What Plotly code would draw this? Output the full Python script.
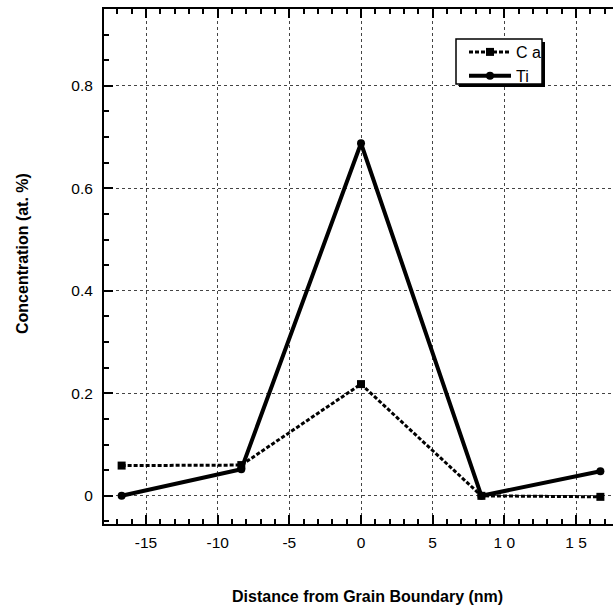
import plotly.graph_objects as go

# ---- data ----
distance_nm = [-16.7, -8.35, 0.0, 8.4, 16.7]
ca_conc = [0.059, 0.060, 0.218, 0.0, -0.002]
ti_conc = [0.0, 0.052, 0.688, 0.0, 0.048]

x_tick_vals = [-15, -10, -5, 0, 5, 10, 15]
x_tick_text = ["-15", "-10", "-5", "0", "5", "1 0", "1 5"]
y_tick_vals = [0, 0.2, 0.4, 0.6, 0.8]
y_tick_text = ["0", "0.2", "0.4", "0.6", "0.8"]

W, H = 613, 608
ML, MR, MT, MB = 104, 0, 9, 84
PW, PH = W - ML - MR, H - MT - MB


def px_x(p):
    return (p - ML) / PW


def px_y(p):
    return (H - MB - p) / PH


FONT = "Liberation Sans, Arial, sans-serif"

fig = go.Figure()
fig.add_trace(go.Scatter(
    x=distance_nm, y=ca_conc, name="C a", mode="lines+markers",
    line=dict(color="black", width=3, dash="4px,2px"),
    marker=dict(symbol="square", size=8, color="black"),
))
fig.add_trace(go.Scatter(
    x=distance_nm, y=ti_conc, name="Ti", mode="lines+markers",
    line=dict(color="black", width=4),
    marker=dict(symbol="circle", size=8, color="black"),
))

# legend box with drop shadow
fig.add_shape(type="rect", xref="paper", yref="paper",
              x0=px_x(459), x1=px_x(545), y0=px_y(87), y1=px_y(42),
              fillcolor="black", line=dict(width=0), layer="above")
fig.add_shape(type="rect", xref="paper", yref="paper",
              x0=px_x(456), x1=px_x(542), y0=px_y(84), y1=px_y(39),
              fillcolor="white", line=dict(color="black", width=1.5), layer="above")

fig.add_annotation(text="<b>Distance from Grain Boundary (nm)</b>", xref="paper", yref="paper",
                   x=px_x(367), y=px_y(596), xanchor="center", yanchor="middle", showarrow=False,
                   font=dict(family=FONT, size=16, color="black"))
fig.add_annotation(text="<b>Concentration (at. %)</b>", xref="paper", yref="paper",
                   x=px_x(22), y=px_y(254), xanchor="center", yanchor="middle",
                   showarrow=False, textangle=-90,
                   font=dict(family=FONT, size=16, color="black"))

fig.update_layout(
    width=W, height=H,
    margin=dict(l=ML, r=MR, t=MT, b=MB),
    plot_bgcolor="white", paper_bgcolor="white",
    font=dict(family=FONT, size=15.5, color="black"),
    showlegend=True,
    legend=dict(x=px_x(464), y=px_y(35), xanchor="left", yanchor="top",
                bgcolor="rgba(0,0,0,0)", borderwidth=0,
                font=dict(family=FONT, size=16, color="black"),
                itemwidth=42, tracegroupgap=0),
)
fig.update_xaxes(
    range=[-17.93, 17.58], tickvals=x_tick_vals, ticktext=x_tick_text,
    showline=True, linecolor="black", linewidth=2, mirror="allticks",
    ticks="inside", ticklen=9, tickwidth=1.5, tickcolor="black",
    minor=dict(dtick=1, ticks="inside", ticklen=5, tickwidth=1.5, tickcolor="black", showgrid=False),
    showgrid=True, gridcolor="#444", gridwidth=1, griddash="dot",
    zeroline=False, ticklabelstandoff=3,
)
fig.update_yaxes(
    range=[-0.055, 0.950], tickvals=y_tick_vals, ticktext=y_tick_text,
    showline=True, linecolor="black", linewidth=2,
    ticks="inside", ticklen=9, tickwidth=1.5, tickcolor="black",
    minor=dict(dtick=0.05, tick0=0, ticks="inside", ticklen=5, tickwidth=1.5, tickcolor="black", showgrid=False),
    showgrid=True, gridcolor="#444", gridwidth=1, griddash="dot",
    zeroline=False, ticklabelstandoff=6,
)

fig.write_html("out.html")
